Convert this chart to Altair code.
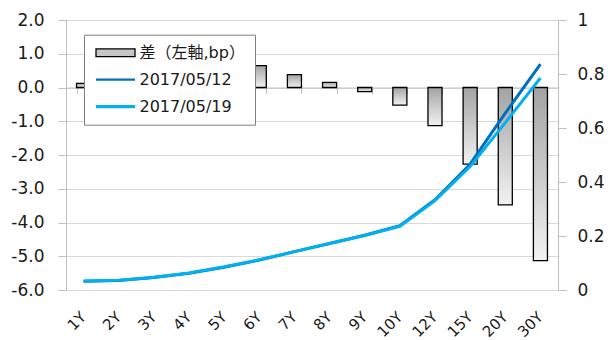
import altair as alt
import pandas as pd

# ---- data ----
tenors = ["1Y", "2Y", "3Y", "4Y", "5Y", "6Y", "7Y", "8Y", "9Y", "10Y", "12Y", "15Y", "20Y", "30Y"]
diff_bp = [0.12, 0.2, 0.3, 0.4, 0.5, 0.65, 0.38, 0.15, -0.12, -0.52, -1.13, -2.27, -3.48, -5.13]
yield_0512 = [0.032, 0.035, 0.046, 0.062, 0.084, 0.111, 0.142, 0.172, 0.203, 0.238, 0.334, 0.466, 0.655, 0.837]
yield_0519 = [0.033, 0.036, 0.047, 0.063, 0.086, 0.112, 0.142, 0.172, 0.202, 0.236, 0.331, 0.457, 0.620, 0.785]
series_names = ["差（左軸,bp）", "2017/05/12", "2017/05/19"]
series_strokes = ["black", "#0070C0", "#00B0F0"]
series_fills = ["#c6c6c6", "transparent", "transparent"]
series_shapes = ["M-3.25,-0.65H3.25V0.65H-3.25Z", "M-3.25,0H3.25", "M-3.25,0H3.25"]
series_widths = [1.3, 3.2, 3.2]
left_ticks = [-6, -5, -4, -3, -2, -1, 0, 1, 2]
right_ticks = [0, 0.2, 0.4, 0.6, 0.8, 1]

FONT = "DejaVu Sans, Noto Sans CJK JP"
TXT = "#1a1a1a"
AXIS_GRAY = "#bfbfbf"

bar_df = pd.DataFrame({"tenor": tenors, "diff": diff_bp})
line_df = pd.concat([
    pd.DataFrame({"tenor": tenors, "series": series_names[1], "rate": yield_0512, "order": 0}),
    pd.DataFrame({"tenor": tenors, "series": series_names[2], "rate": yield_0519, "order": 1}),
], ignore_index=True)
legend_df = pd.DataFrame({"series": series_names})

gradient = {
    "gradient": "linear", "x1": 0, "y1": 0, "x2": 0, "y2": 1,
    "stops": [{"offset": 0, "color": "#a3a3a3"}, {"offset": 1, "color": "#f2f2f2"}],
}

x_scale = alt.Scale(type="band", domain=tenors, paddingInner=0.6, paddingOuter=0.3)

bars = alt.Chart(bar_df).mark_bar(fill=gradient, stroke="black", strokeWidth=1.3).encode(
    x=alt.X("tenor:N", sort=tenors, scale=x_scale,
            axis=alt.Axis(orient="bottom", offset=-202.5, labels=False, ticks=True,
                          tickBand="extent", tickSize=6, tickColor=AXIS_GRAY,
                          domainColor=AXIS_GRAY, title=None, grid=False)),
    y=alt.Y("diff:Q", scale=alt.Scale(domain=[-6, 2], nice=False, zero=False),
            axis=alt.Axis(orient="left", values=left_ticks, grid=True, gridColor="#d9d9d9",
                          domainColor=AXIS_GRAY, tickColor=AXIS_GRAY, tickSize=8,
                          labelPadding=14, labelFontSize=17, labelFont=FONT, labelColor=TXT,
                          labelExpr="(datum.value < 0 ? '-' : '') + format(abs(datum.value), '.1f')",
                          title=None)),
)

legend = alt.Legend(
    title=None, orient="none", legendX=18, legendY=14.7, direction="vertical",
    fillColor="white", strokeColor="#7f7f7f", padding=10,
    symbolSize=144, symbolOffset=13.5, labelOffset=16, rowPadding=11,
    labelFontSize=16, labelFont=FONT, labelColor=TXT, labelLimit=300,
)

stroke_scale = alt.Scale(domain=series_names, range=series_strokes)

lines = alt.Chart(line_df).mark_line(strokeWidth=3).encode(
    x=alt.X("tenor:N", sort=tenors, scale=x_scale,
            axis=alt.Axis(orient="bottom", labelAngle=-45, labelAlign="right",
                          labelBaseline="middle", labelPadding=24, ticks=False, domain=False,
                          labelFontSize=15, labelFont=FONT, labelColor=TXT, title=None, grid=False,
                          labelOverlap=False, labelBound=False)),
    y=alt.Y("rate:Q", scale=alt.Scale(domain=[0, 1], nice=False),
            axis=alt.Axis(orient="right", values=right_ticks, format="~g", grid=False,
                          domainColor=AXIS_GRAY, tickColor=AXIS_GRAY, tickSize=8,
                          labelPadding=11, labelFontSize=17, labelFont=FONT, labelColor=TXT,
                          title=None)),
    stroke=alt.Stroke("series:N", scale=stroke_scale, legend=legend),
    order=alt.Order("order:Q"),
)

# legend-only layer (all rows filtered out; the legend comes from the scales)
legend_layer = alt.Chart(legend_df).transform_filter("false").mark_point(filled=True, opacity=1).encode(
    stroke=alt.Stroke("series:N", scale=stroke_scale, legend=legend),
    fill=alt.Fill("series:N", scale=alt.Scale(domain=series_names, range=series_fills), legend=legend),
    shape=alt.Shape("series:N", scale=alt.Scale(domain=series_names, range=series_shapes), legend=legend),
    strokeWidth=alt.StrokeWidth("series:O", scale=alt.Scale(domain=series_names, range=series_widths),
                                legend=legend),
)

chart = alt.layer(bars, lines, legend_layer).resolve_scale(y="independent").resolve_axis(
    x="independent", y="independent"
).properties(
    width=492, height=270,
    autosize=alt.AutoSizeParams(type="none"),
    padding={"left": 66, "top": 20, "right": 50, "bottom": 50},
).configure_view(stroke=None).configure(background="white")

chart.save("out.html", embed_options={"renderer": "svg", "actions": False})
